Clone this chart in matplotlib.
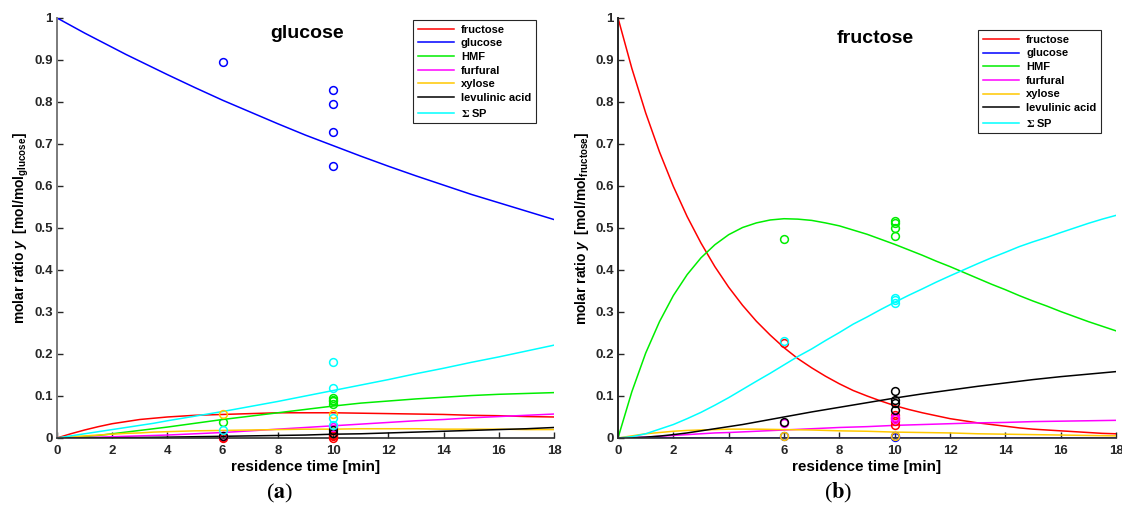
import matplotlib

matplotlib.use("Agg")

import matplotlib.pyplot as plt
from matplotlib.lines import Line2D

# model time grids [min]
t_model_a = [0, 0.5, 1, 1.5, 2, 2.5, 3, 3.5, 4, 5, 6, 7, 8, 9, 10, 11, 12, 13, 14, 15, 16, 17, 18]
t_model_b = [0, 0.5, 1, 1.5, 2, 2.5, 3, 3.5, 4, 4.5, 5, 5.5, 6, 6.5, 7, 7.5, 8, 8.5, 9, 9.5,
             10, 10.5, 11, 11.5, 12, 12.5, 13, 13.5, 14, 14.5, 15, 15.5, 16, 16.5, 17, 17.5, 18]

# (a) glucose as feed: model curves
a_fructose = [0, 0.010, 0.019, 0.027, 0.034, 0.039, 0.044, 0.047, 0.050, 0.054, 0.056, 0.058, 0.060,
              0.060, 0.060, 0.059, 0.058, 0.057, 0.056, 0.054, 0.053, 0.051, 0.050]
a_glucose = [1, 0.982, 0.964, 0.947, 0.930, 0.913, 0.897, 0.881, 0.865, 0.834, 0.804, 0.776, 0.748,
             0.721, 0.696, 0.671, 0.647, 0.624, 0.602, 0.580, 0.560, 0.540, 0.520]
a_hmf = [0, 0.001, 0.003, 0.006, 0.010, 0.014, 0.018, 0.022, 0.026, 0.035, 0.044, 0.052, 0.060,
         0.068, 0.076, 0.083, 0.088, 0.093, 0.097, 0.101, 0.104, 0.106, 0.108]
a_furfural = [0, 0.0005, 0.001, 0.002, 0.003, 0.004, 0.005, 0.006, 0.007, 0.010, 0.013, 0.017, 0.021,
              0.025, 0.029, 0.033, 0.037, 0.041, 0.044, 0.048, 0.051, 0.054, 0.057]
a_xylose = [0, 0.003, 0.005, 0.007, 0.009, 0.011, 0.012, 0.014, 0.015, 0.017, 0.018, 0.019, 0.020,
            0.021, 0.021, 0.022, 0.022, 0.022, 0.021, 0.021, 0.021, 0.020, 0.020]
a_levulinic = [0, 0, 0, 0.0003, 0.0005, 0.0008, 0.001, 0.0015, 0.002, 0.003, 0.004, 0.005, 0.006,
               0.007, 0.009, 0.010, 0.012, 0.014, 0.016, 0.018, 0.020, 0.022, 0.025]
a_sum_sp = [0, 0.005, 0.010, 0.015, 0.020, 0.025, 0.030, 0.035, 0.041, 0.052, 0.063, 0.075, 0.087,
            0.100, 0.113, 0.126, 0.139, 0.153, 0.166, 0.180, 0.193, 0.207, 0.221]

# (a) measured points
a_fru_t, a_fru_y = [6, 6, 10, 10, 10], [0.001, 0.003, 0.0, 0.004, 0.008]
a_glu_t, a_glu_y = [6, 10, 10, 10, 10], [0.895, 0.828, 0.795, 0.729, 0.648]
a_hmf_t, a_hmf_y = [6, 10, 10, 10, 10], [0.039, 0.095, 0.091, 0.087, 0.082]
a_fur_t, a_fur_y = [6, 10], [0.004, 0.025]
a_xyl_t, a_xyl_y = [6, 10], [0.056, 0.058]
a_lev_t, a_lev_y = [6, 10, 10], [0.004, 0.012, 0.018]
a_sp_t, a_sp_y = [6, 10, 10, 10, 10], [0.019, 0.180, 0.119, 0.047, 0.032]

# (b) fructose as feed: model curves
b_fructose = [1, 0.880, 0.774, 0.681, 0.599, 0.527, 0.464, 0.408, 0.359, 0.316, 0.278, 0.245,
              0.215, 0.189, 0.167, 0.147, 0.129, 0.113, 0.100, 0.088, 0.077, 0.068, 0.060, 0.053,
              0.046, 0.041, 0.036, 0.032, 0.028, 0.024, 0.021, 0.019, 0.017, 0.015, 0.013, 0.011, 0.010]
b_glucose = [0] * 37
b_hmf = [0, 0.110, 0.202, 0.277, 0.339, 0.389, 0.429, 0.460, 0.484, 0.501, 0.512, 0.519,
         0.522, 0.521, 0.518, 0.512, 0.505, 0.495, 0.485, 0.473, 0.461, 0.448, 0.435, 0.421,
         0.408, 0.394, 0.380, 0.366, 0.353, 0.339, 0.326, 0.314, 0.301, 0.289, 0.277, 0.266, 0.255]
b_furfural = [0, 0.001, 0.002, 0.004, 0.006, 0.008, 0.010, 0.012, 0.013, 0.0145, 0.016, 0.0175,
              0.019, 0.0205, 0.022, 0.0235, 0.025, 0.026, 0.027, 0.0285, 0.030, 0.031, 0.032, 0.033,
              0.034, 0.035, 0.036, 0.0365, 0.037, 0.038, 0.039, 0.0395, 0.040, 0.0405, 0.041, 0.0415, 0.042]
b_xylose = [0, 0.005, 0.010, 0.013, 0.016, 0.018, 0.019, 0.020, 0.021, 0.021, 0.021, 0.0205,
            0.020, 0.0195, 0.019, 0.018, 0.017, 0.0165, 0.016, 0.015, 0.014, 0.0135, 0.013, 0.0125,
            0.012, 0.011, 0.010, 0.0095, 0.009, 0.0085, 0.008, 0.0075, 0.007, 0.0065, 0.006, 0.0055, 0.005]
b_levulinic = [0, 0.0006, 0.002, 0.0045, 0.008, 0.012, 0.017, 0.022, 0.027, 0.032, 0.038, 0.044,
               0.050, 0.056, 0.062, 0.0675, 0.073, 0.0785, 0.084, 0.0895, 0.095, 0.100, 0.105, 0.1095,
               0.114, 0.1185, 0.123, 0.127, 0.131, 0.135, 0.139, 0.1425, 0.146, 0.149, 0.152, 0.155, 0.158]
b_sum_sp = [0, 0.003, 0.010, 0.021, 0.032, 0.046, 0.061, 0.078, 0.096, 0.1155, 0.135, 0.154,
            0.174, 0.194, 0.212, 0.232, 0.251, 0.271, 0.288, 0.306, 0.323, 0.3395, 0.355, 0.371,
            0.386, 0.4005, 0.415, 0.429, 0.442, 0.4555, 0.467, 0.4775, 0.489, 0.500, 0.511, 0.521, 0.530]

# (b) measured points
b_fru_t, b_fru_y = [6, 10, 10, 10, 10], [0.226, 0.054, 0.048, 0.040, 0.030]
b_glu_t, b_glu_y = [6, 10, 10], [0.005, 0.005, 0.003]
b_hmf_t, b_hmf_y = [6, 10, 10, 10, 10], [0.473, 0.516, 0.511, 0.501, 0.482]
b_fur_t, b_fur_y = [6, 10, 10], [0.036, 0.050, 0.045]
b_xyl_t, b_xyl_y = [6, 10], [0.004, 0.004]
b_lev_t, b_lev_y = [6, 10, 10, 10, 10], [0.038, 0.113, 0.090, 0.084, 0.066]
b_sp_t, b_sp_y = [6, 10, 10, 10], [0.230, 0.334, 0.328, 0.321]

species = ["fructose", "glucose", "HMF", "furfural", "xylose", "levulinic acid", r"$\Sigma$ SP"]
colors = ["#ff0000", "#0000ff", "#00ee00", "#ff00ff", "#ffc800", "#000000", "#00ffff"]

x_ticks = [0, 2, 4, 6, 8, 10, 12, 14, 16, 18]
y_ticks = [0, 0.1, 0.2, 0.3, 0.4, 0.5, 0.6, 0.7, 0.8, 0.9, 1]
y_tick_labels = ["0", "0.1", "0.2", "0.3", "0.4", "0.5", "0.6", "0.7", "0.8", "0.9", "1"]

plt.rcParams["font.family"] = ["Liberation Sans", "DejaVu Sans"]
plt.rcParams["font.weight"] = "bold"
plt.rcParams["mathtext.fontset"] = "custom"
plt.rcParams["mathtext.rm"] = "Liberation Sans:bold"
plt.rcParams["mathtext.it"] = "Liberation Sans:italic:bold"
plt.rcParams["mathtext.bf"] = "Liberation Sans:bold"


def draw_panel(ax, t_model, curves, points, title, title_xy, feed, spine_color, legend_box):
    for y, c in zip(curves, colors):
        ax.plot(t_model, y, color=c, lw=1.1)
    for (tx, ty), c in zip(points, colors):
        ax.plot(tx, ty, "o", mfc="none", mec=c, ms=5.6, mew=1.1, clip_on=False, zorder=5)

    ax.set_xlim(0, 18)
    ax.set_ylim(0, 1)
    ax.set_xticks(x_ticks)
    ax.set_yticks(y_ticks)
    ax.set_yticklabels(y_tick_labels)
    ax.tick_params(direction="in", length=4, width=1, labelsize=9.5, colors="#262626")
    ax.tick_params(axis="x", pad=5)
    ax.tick_params(axis="y", pad=3)
    for side in ("top", "right"):
        ax.spines[side].set_visible(False)
    ax.spines["left"].set_color(spine_color)
    ax.spines["left"].set_linewidth(1.4)
    ax.spines["bottom"].set_color("#303030")
    ax.spines["bottom"].set_linewidth(1.2)

    ax.set_xlabel("residence time [min]", fontsize=11, fontweight="bold", va="center")
    ax.xaxis.set_label_coords(0.5, -0.069)
    ax.set_ylabel(r"molar ratio $\mathit{y}$  [mol/mol$_{\mathrm{" + feed + "}}$]",
                  fontsize=10, fontweight="bold", va="center")
    ax.yaxis.set_label_coords(-0.072, 0.5)

    ax.text(title_xy[0], title_xy[1], title, transform=ax.transAxes, ha="center", va="center",
            fontsize=14, fontweight="bold")

    handles = [Line2D([], [], color=c, lw=1.1) for c in colors]
    leg = ax.legend(handles, species, loc="upper left", bbox_to_anchor=legend_box,
                    fontsize=8, frameon=True, fancybox=False, framealpha=1,
                    edgecolor="#262626", handlelength=3.3, handletextpad=0.6,
                    labelspacing=0.33, borderpad=0.42, borderaxespad=0)
    leg.get_frame().set_linewidth(0.8)
    leg.get_texts()[-1].set_math_fontfamily("stix")


fig = plt.figure(figsize=(11.22, 5.11), dpi=100)
ax_a = fig.add_axes([0.0508, 0.1429, 0.443, 0.822])
ax_b = fig.add_axes([0.5508, 0.1429, 0.4439, 0.822])

draw_panel(ax_a, t_model_a,
           [a_fructose, a_glucose, a_hmf, a_furfural, a_xylose, a_levulinic, a_sum_sp],
           [(a_fru_t, a_fru_y), (a_glu_t, a_glu_y), (a_hmf_t, a_hmf_y), (a_fur_t, a_fur_y),
            (a_xyl_t, a_xyl_y), (a_lev_t, a_lev_y), (a_sp_t, a_sp_y)],
           "glucose", (0.503, 0.964), "glucose", "#7a7a7a", (0.716, 0.995))
draw_panel(ax_b, t_model_b,
           [b_fructose, b_glucose, b_hmf, b_furfural, b_xylose, b_levulinic, b_sum_sp],
           [(b_fru_t, b_fru_y), (b_glu_t, b_glu_y), (b_hmf_t, b_hmf_y), (b_fur_t, b_fur_y),
            (b_xyl_t, b_xyl_y), (b_lev_t, b_lev_y), (b_sp_t, b_sp_y)],
           "fructose", (0.516, 0.95), "fructose", "#262626", (0.723, 0.971))

# panel letters
fig.text(280 / 1122, 1 - 493 / 511, r"($\mathbf{a}$)", family="Liberation Serif",
         math_fontfamily="stix", fontsize=16, fontweight="normal", ha="center", va="center")
fig.text(838 / 1122, 1 - 493 / 511, r"($\mathbf{b}$)", family="Liberation Serif",
         math_fontfamily="stix", fontsize=16, fontweight="normal", ha="center", va="center")

fig.savefig("out.png", dpi=100)
plt.close(fig)
